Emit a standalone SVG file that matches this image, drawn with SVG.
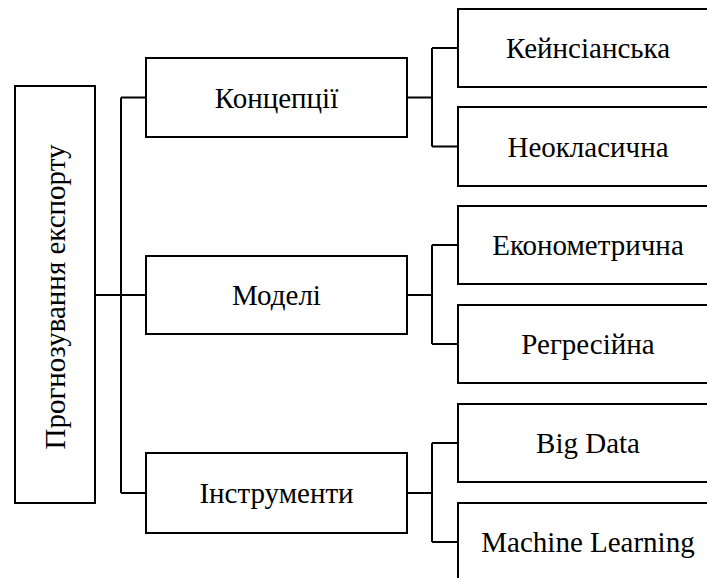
<svg xmlns="http://www.w3.org/2000/svg" width="707" height="578" viewBox="0 0 707 578">
<style>
  .box { fill: #ffffff; stroke: #000000; stroke-width: 2; }
  .lbl { font-family: 'Liberation Serif', 'Times New Roman', serif; font-size: 29px; fill: #000000; text-anchor: middle; }
  .conn { fill: none; stroke: #000000; stroke-width: 2; }
</style>
<rect width="707" height="578" fill="#ffffff"/>
<g id="connectors">
  <path class="conn" d="M95 295 H121 M121 97.5 V493 M121 97.5 H146 M121 295 H146 M121 493 H146"/>
  <path class="conn" d="M407 97.5 H432 M432 48 V146.5 M432 48 H458 M432 146.5 H458"/>
  <path class="conn" d="M407 295 H432 M432 245 V344 M432 245 H458 M432 344 H458"/>
  <path class="conn" d="M407 493 H432 M432 443 V542 M432 443 H458 M432 542 H458"/>
</g>
<g id="root">
  <rect class="box" x="15" y="86" width="80" height="417"/>
  <text class="lbl" transform="translate(65,297) rotate(-90)">Прогнозування експорту</text>
</g>
<g id="concepts">
  <rect class="box" x="146" y="58" width="261" height="79"/>
  <text class="lbl" x="276.5" y="107.5">Концепції</text>
</g>
<g id="models">
  <rect class="box" x="146" y="256" width="261" height="78"/>
  <text class="lbl" x="276.5" y="305">Моделі</text>
</g>
<g id="tools">
  <rect class="box" x="146" y="453" width="261" height="80"/>
  <text class="lbl" x="276.5" y="503">Інструменти</text>
</g>
<g id="keynesian">
  <rect class="box" x="458" y="9" width="262" height="78"/>
  <text class="lbl" x="588" y="58">Кейнсіанська</text>
</g>
<g id="neoclassical">
  <rect class="box" x="458" y="107" width="262" height="79"/>
  <text class="lbl" x="588" y="156.5">Неокласична</text>
</g>
<g id="econometric">
  <rect class="box" x="458" y="206" width="262" height="78"/>
  <text class="lbl" x="588" y="255">Економетрична</text>
</g>
<g id="regression">
  <rect class="box" x="458" y="305" width="262" height="78"/>
  <text class="lbl" x="588" y="354">Регресійна</text>
</g>
<g id="bigdata">
  <rect class="box" x="458" y="404" width="262" height="78"/>
  <text class="lbl" x="588" y="453">Big Data</text>
</g>
<g id="ml">
  <rect class="box" x="458" y="503" width="262" height="80"/>
  <text class="lbl" x="588" y="552">Machine Learning</text>
</g>
</svg>
